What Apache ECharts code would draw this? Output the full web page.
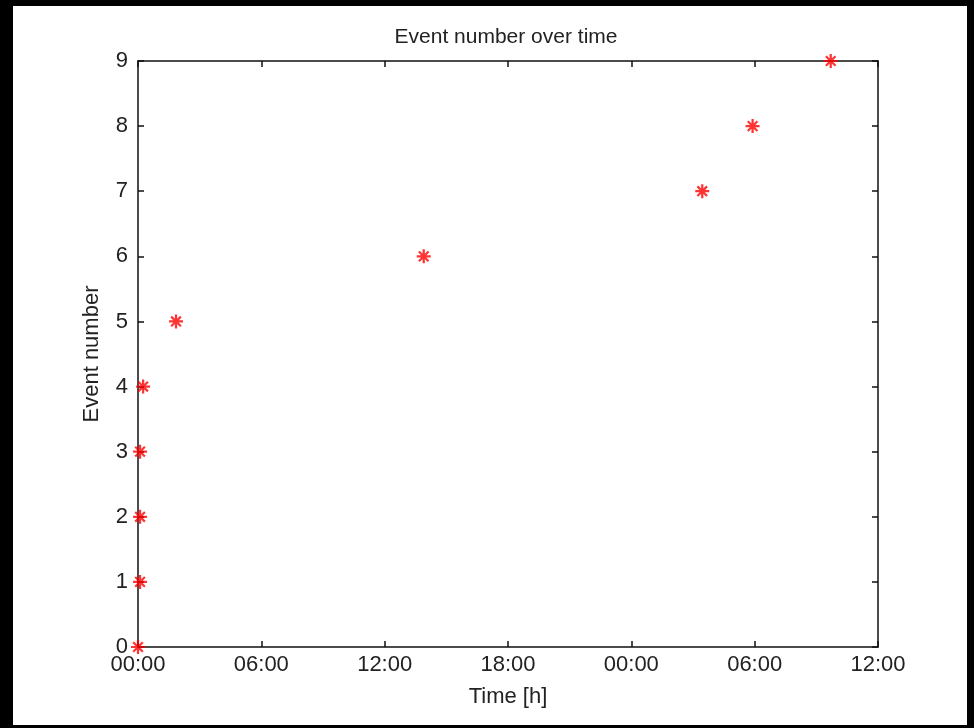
<!DOCTYPE html>
<html>
<head>
<meta charset="utf-8">
<script src="https://cdn.jsdelivr.net/npm/echarts@6/dist/echarts.min.js"></script>
<style>
  html, body { margin: 0; padding: 0; background: #000; width: 974px; height: 728px; overflow: hidden; }
  #chart { position: absolute; left: 13px; top: 6px; width: 954px; height: 719px; background: #fff; }
</style>
</head>
<body>
<div id="chart"></div>
<script>
// event times in hours since start
const eventHours = [0, 0.1, 0.1, 0.1, 0.25, 1.85, 13.9, 27.45, 29.9, 33.7]
const eventNumbers = [0, 1, 2, 3, 4, 5, 6, 7, 8, 9]

const chart = echarts.init(document.getElementById('chart'))

// asterisk marker built from four thin bars
const asterisk = 'path://M-0.8,-5 L0.8,-5 L0.8,5 L-0.8,5 Z ' +
  'M-5,-0.8 L5,-0.8 L5,0.8 L-5,0.8 Z ' +
  'M-2.9,-4.0 L4.0,2.9 L2.9,4.0 L-4.0,-2.9 Z ' +
  'M2.9,-4.0 L4.0,-2.9 L-2.9,4.0 L-4.0,2.9 Z'

const fmtHour = v => String(v % 24).padStart(2, '0') + ':00'

const axisFont = { fontFamily: 'Liberation Sans', fontSize: 22, color: '#222' }
const boxLine = { show: true, onZero: false, lineStyle: { color: '#111', width: 1.5 } }
const boxTick = { show: true, inside: true, length: 6, lineStyle: { color: '#111', width: 1.5 } }

const option = {
  animation: false,
  graphic: [
    {
      type: 'text',
      x: 493,
      y: 31,
      style: {
        text: 'Event number over time',
        fontFamily: 'Liberation Sans',
        fontSize: 21,
        fill: '#222',
        textAlign: 'center',
        textVerticalAlign: 'middle'
      }
    }
  ],
  grid: { left: 125, top: 55, width: 740, height: 586 },
  xAxis: [
    {
      type: 'value',
      min: 0,
      max: 36,
      interval: 6,
      name: 'Time [h]',
      nameLocation: 'middle',
      nameGap: 39,
      nameTextStyle: axisFont,
      axisLine: boxLine,
      axisTick: boxTick,
      axisLabel: { ...axisFont, margin: 7, formatter: fmtHour },
      splitLine: { show: false }
    },
    {
      type: 'value',
      position: 'top',
      min: 0,
      max: 36,
      interval: 6,
      axisLine: boxLine,
      axisTick: boxTick,
      axisLabel: { show: false },
      splitLine: { show: false }
    }
  ],
  yAxis: [
    {
      type: 'value',
      min: 0,
      max: 9,
      interval: 1,
      name: 'Event number',
      nameLocation: 'middle',
      nameGap: 35,
      nameTextStyle: axisFont,
      axisLine: boxLine,
      axisTick: boxTick,
      axisLabel: { ...axisFont, margin: 10 },
      splitLine: { show: false }
    },
    {
      type: 'value',
      position: 'right',
      min: 0,
      max: 9,
      interval: 1,
      axisLine: boxLine,
      axisTick: boxTick,
      axisLabel: { show: false },
      splitLine: { show: false }
    }
  ],
  series: [
    {
      type: 'scatter',
      symbol: asterisk,
      symbolSize: 14,
      itemStyle: { color: '#ff0000' },
      clip: false,
      data: eventHours.map((h, i) => [h, eventNumbers[i]])
    }
  ]
}

chart.setOption(option)
</script>
</body>
</html>
